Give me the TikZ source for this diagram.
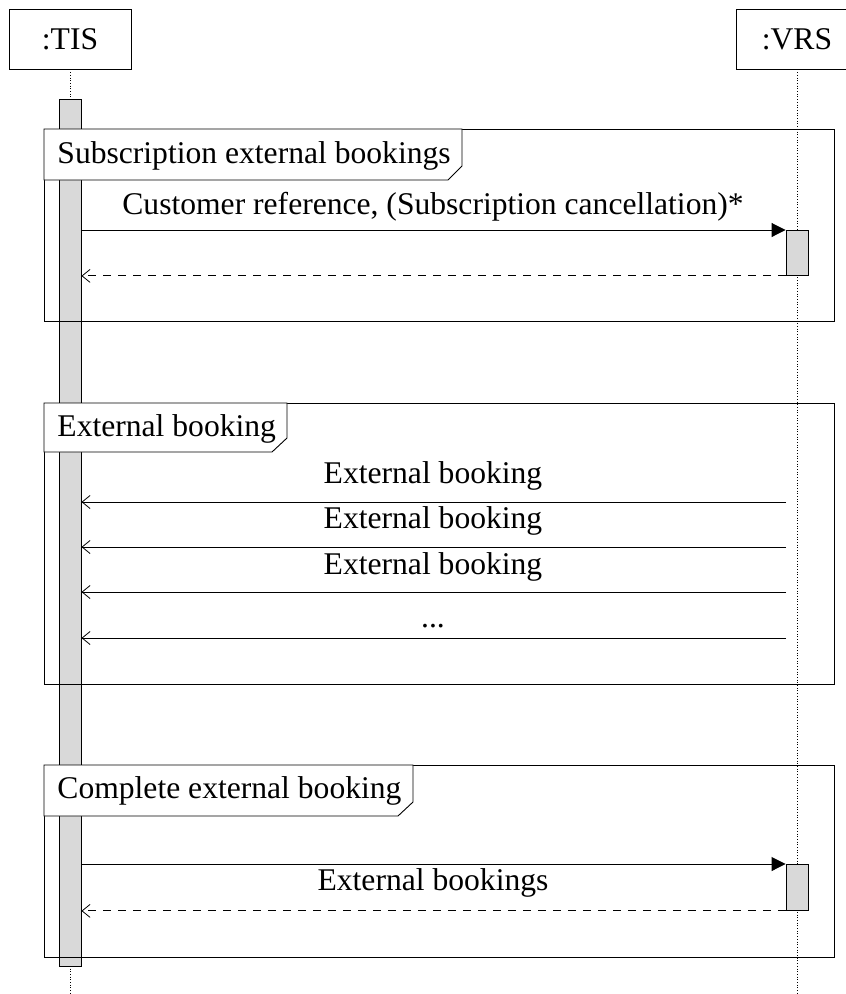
\documentclass[tikz,border=0pt]{standalone}
\usepackage{fontspec}
\setmainfont{Liberation Serif}
\usetikzlibrary{arrows.meta}
\begin{document}
\begin{tikzpicture}[x=1pt,y=-1pt,
  font=\fontsize{31.6}{38}\selectfont,
  line width=0.9pt,
  headbox/.style={draw, line width=0.9pt, minimum width=122pt, minimum height=60pt, inner sep=0pt},
  lifeline/.style={dotted, line width=0.7pt},
  actbar/.style={draw, fill=black!15, line width=0.9pt, minimum width=22pt, inner sep=0pt, anchor=north},
  framebox/.style={draw, line width=0.9pt, inner sep=0pt, anchor=north west},
  framelbl/.style={draw, fill=white, line width=0.9pt},
  txt/.style={anchor=base, inner sep=0pt},
  syncmsg/.style={-{Triangle[length=14pt,width=14pt]}},
  retmsg/.style={dash pattern=on 8pt off 7pt, -{Straight Barb[length=8pt,width=13pt,line width=0.8pt]}},
  asyncmsg/.style={-{Straight Barb[length=8pt,width=13pt,line width=0.8pt]}}
]
\useasboundingbox (0,0) rectangle (846,994);

% lifeline heads
\node[headbox] (tis) at (70,39) {:TIS};
\node[headbox] (vrs) at (797,39) {:VRS};
\coordinate (tisend) at (70,994);
\coordinate (vrsend) at (797,994);

% lifelines
\draw[lifeline] (vrs.south) -- (vrsend);
\draw[lifeline] (tis.south) -- (tisend);

% activation bars
\node[actbar, minimum height=867pt] (tisbar) at (70,99) {};
\node[actbar, minimum height=45pt] (vb1) at (797,230) {};
\node[actbar, minimum height=46pt] (vb2) at (797,864) {};

% frames
\node[framebox, minimum width=790pt, minimum height=192pt] (f1) at (44,129) {};
\node[framebox, minimum width=790pt, minimum height=281pt] (f2) at (44,403) {};
\node[framebox, minimum width=790pt, minimum height=192pt] (f3) at (44,765) {};

\draw[framelbl] (f1.north west) -- (462,129) -- (462,166) -- (448,180) -- (44,180) -- cycle;
\draw[framelbl] (f2.north west) -- (287,403) -- (287,438) -- (272,452) -- (44,452) -- cycle;
\draw[framelbl] (f3.north west) -- (413,765) -- (413,802) -- (398,816) -- (44,816) -- cycle;

\node[txt, anchor=base west] (l1) at (57,163) {Subscription external bookings};
\node[txt, anchor=base west] (l2) at (57,436) {External booking};
\node[txt, anchor=base west] (l3) at (57,798) {Complete external booking};

% frame 1 messages
\draw[syncmsg] (tisbar.east |- vb1.north west) -- (vb1.north west);
\node[txt] (t1) at (433,214) {Customer reference, (Subscription cancellation)*};
\draw[retmsg] (vb1.south west) -- (tisbar.east |- vb1.south west);

% frame 2 messages
\coordinate (m1) at (786,502);
\coordinate (m2) at (786,547);
\coordinate (m3) at (786,592);
\coordinate (m4) at (786,638);
\draw[asyncmsg] (m1) -- (tisbar.east |- m1);
\draw[asyncmsg] (m2) -- (tisbar.east |- m2);
\draw[asyncmsg] (m3) -- (tisbar.east |- m3);
\draw[asyncmsg] (m4) -- (tisbar.east |- m4);
\node[txt] (e1) at (433,483) {External booking};
\node[txt] (e2) at (433,528) {External booking};
\node[txt] (e3) at (433,574) {External booking};
\node[txt] (e4) at (433,627) {...};

% frame 3 messages
\draw[syncmsg] (tisbar.east |- vb2.north west) -- (vb2.north west);
\node[txt] (t3) at (433,890) {External bookings};
\draw[retmsg] (vb2.south west) -- (tisbar.east |- vb2.south west);
\end{tikzpicture}
\end{document}
